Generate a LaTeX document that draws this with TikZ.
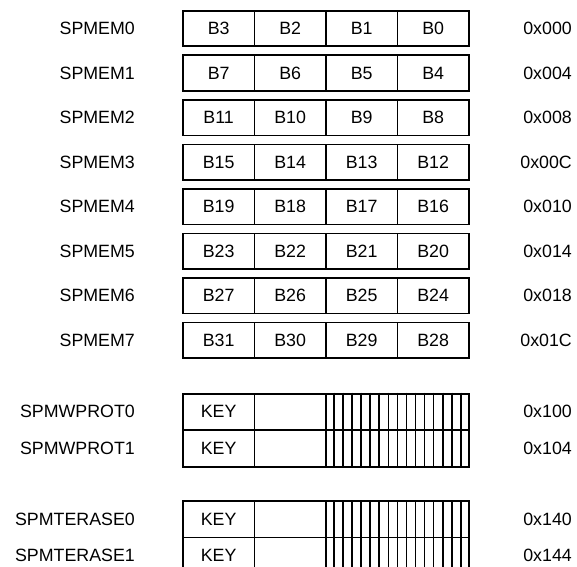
\documentclass[tikz,border=0pt]{standalone}
\usepackage{fontspec}
\setmainfont{Liberation Sans}
\usetikzlibrary{calc}
\begin{document}
\begin{tikzpicture}[x=1pt,y=1pt,
  txt/.style={font=\fontsize{17.8}{21}\selectfont},
  cell/.style={txt, draw, line width=1.8pt, minimum width=71.5pt, minimum height=35.5pt, inner sep=0pt, anchor=north west},
  wcell/.style={cell, minimum height=36.5pt},
  hcell/.style={draw, line width=1.8pt, minimum width=143pt, minimum height=36.5pt, inner sep=0pt, anchor=north west},
  lbl/.style={txt, anchor=east, inner sep=0pt},
  addr/.style={txt, anchor=east, inner sep=0pt},
  hatch/.style={line width=1.7pt}]
\useasboundingbox (0,0) rectangle (577,566);
\clip (0,0) rectangle (577,566);
% SPMEM rows
\foreach \r/\a in {0/000,1/004,2/008,3/00C,4/010,5/014,6/018,7/01C} {
  \pgfmathsetmacro\top{556-44.5*\r}
  \foreach \c in {0,...,3} {
    \pgfmathtruncatemacro\b{4*\r+3-\c}
    \node[cell] (m\r c\c) at ({182+71.5*\c},\top) {B\b};
  }
  \node[lbl] (n\r) at (135,\top-18.5) {SPMEM\r};
  \node[addr] (a\r) at (572,\top-18.5) {0x\a};
}
% protection / erase rows
\foreach \g/\t/\base/\a in {w0/SPMWPROT0/173.3/100, w1/SPMWPROT1/136.8/104, e0/SPMTERASE0/66/140, e1/SPMTERASE1/29.5/144} {
  \node[wcell] (\g k) at (182,\base) {KEY};
  \node[wcell] (\g e) at (253.5,\base) {};
  \node[hcell] (\g h) at (325,\base) {};
  \node[lbl] (\g n) at (135,\base-19) {\t};
  \node[addr] (\g a) at (572,\base-19) {0x\a};
  \foreach \k in {1,...,15} {
    \draw[hatch] ($(\g h.north west)!{\k/16}!(\g h.north east)$) -- ($(\g h.south west)!{\k/16}!(\g h.south east)$);
  }
}
\end{tikzpicture}
\end{document}
